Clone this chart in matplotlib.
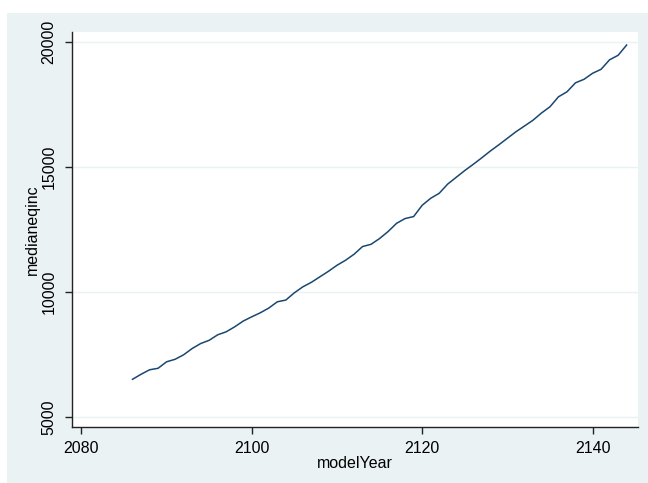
import matplotlib.pyplot as plt
import matplotlib.patches as mpatches

# yearly median equivalised income
years = list(range(2086, 2145))
medianeqinc = [
    6520, 6720, 6900, 6960, 7220, 7320, 7500, 7750, 7950, 8080,
    8300, 8420, 8620, 8850, 9020, 9180, 9370, 9620, 9690, 9980,
    10220, 10400, 10620, 10840, 11080, 11280, 11520, 11830, 11920, 12150,
    12430, 12760, 12950, 13030, 13480, 13760, 13960, 14330, 14600, 14870,
    15120, 15380, 15650, 15900, 16160, 16420, 16650, 16880, 17170, 17420,
    17820, 18020, 18380, 18520, 18760, 18920, 19300, 19480, 19890,
]
xticks = [2080, 2100, 2120, 2140]
yticks = [5000, 10000, 15000, 20000]

bg = '#EAF2F3'
navy = '#1A476F'

plt.rcParams['font.family'] = ['Liberation Sans', 'DejaVu Sans']

fig = plt.figure(figsize=(6.48, 4.83), dpi=100)
fig.patches.append(mpatches.Rectangle((7 / 648, 0), 1, 1 - 13 / 483,
                                      transform=fig.transFigure,
                                      facecolor=bg, edgecolor='none', zorder=-5))

ax = fig.add_axes([72 / 648, 1 - 426.7 / 483, (637.7 - 72) / 648, (426.7 - 32) / 483])
ax.set_facecolor('white')
ax.plot(years, medianeqinc, color=navy, lw=1.1)

ax.set_xlim(2078.9, 2145.3)
ax.set_ylim(4624, 20412)
ax.set_xticks(xticks)
ax.set_yticks(yticks)
ax.set_yticklabels([str(v) for v in yticks], rotation=90, va='center')
ax.grid(axis='y', color=bg, lw=1.0)
ax.set_axisbelow(True)

for s in ['top', 'right']:
    ax.spines[s].set_visible(False)
for s in ['left', 'bottom']:
    ax.spines[s].set_color('#222222')
    ax.spines[s].set_linewidth(1.0)
ax.tick_params(axis='x', length=5, width=1, color='#222222', labelsize=11.5, pad=5)
ax.tick_params(axis='y', length=5, width=1, color='#222222', labelsize=11.5, pad=6)

ax.set_xlabel('modelYear', fontsize=11.5, labelpad=0)
ax.set_ylabel('medianeqinc', fontsize=11.5, labelpad=1)

fig.savefig('out.png', dpi=100)
